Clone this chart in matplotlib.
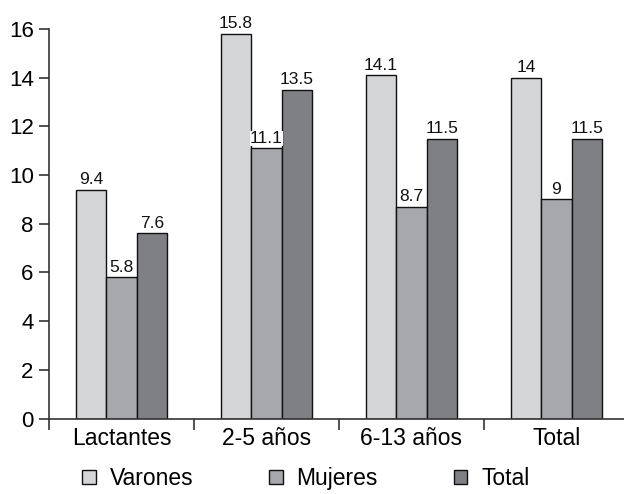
import numpy as np
import matplotlib as mpl
mpl.use('Agg')
import matplotlib.pyplot as plt

# grupos de edad y prevalencias (%)
categorias = ['Lactantes', '2-5 años', '6-13 años', 'Total']
varones = [9.4, 15.8, 14.1, 14]
mujeres = [5.8, 11.1, 8.7, 9]
total = [7.6, 13.5, 11.5, 11.5]
series = ['Varones', 'Mujeres', 'Total']
y_ticks = [0, 2, 4, 6, 8, 10, 12, 14, 16]

colores = ['#d4d5d7', '#a7a8ab', '#7f8083']

plt.rcParams['font.family'] = ['Liberation Sans', 'DejaVu Sans']

fig = plt.figure(figsize=(6.24, 4.94), dpi=100)
ax = fig.add_axes([49 / 624, 75.5 / 494, 580 / 624, 389.5 / 494])

x = np.arange(len(categorias))
w = 0.21
for i, (vals, nombre, col) in enumerate(zip([varones, mujeres, total], series, colores)):
    bars = ax.bar(x + (i - 1) * w, vals, width=w, color=col, edgecolor='#111111',
                  linewidth=1.0, label=nombre, zorder=2)
    for b, v in zip(bars, vals):
        etiqueta = ('%g' % v)
        ax.text(b.get_x() + b.get_width() / 2, v + 0.1, etiqueta, ha='center', va='bottom',
                fontsize=12.5, color='#111111', zorder=3,
                bbox=dict(facecolor='white', edgecolor='none', pad=0.2))

ax.set_xlim(-0.5, 3.5)
ax.set_ylim(0, 16)
ax.set_yticks(y_ticks)
ax.tick_params(axis='y', labelsize=16, length=7, width=1.2, color='#333333', pad=4)

# marcas del eje x entre grupos, etiquetas centradas
ax.set_xticks(np.arange(-0.5, 4.0, 1.0))
ax.set_xticklabels([])
ax.set_xticks(x, minor=True)
ax.set_xticklabels(categorias, minor=True, fontsize=16.5)
ax.tick_params(axis='x', which='major', length=8, width=1.2, color='#333333', direction='out')
ax.tick_params(axis='x', which='minor', length=0, pad=6)

for s in ['top', 'right']:
    ax.spines[s].set_visible(False)
ax.spines['left'].set_color('#333333')
ax.spines['left'].set_linewidth(1.2)
ax.spines['bottom'].set_color('#333333')
ax.spines['bottom'].set_linewidth(1.2)
ax.spines['bottom'].set_zorder(4)

fig.legend(loc='lower center', bbox_to_anchor=(0.49, -0.034), ncol=3, frameon=False,
           fontsize=16.5, handlelength=0.6, handleheight=0.6, handletextpad=0.6,
           columnspacing=3.3)

fig.savefig('out.png', dpi=100)
